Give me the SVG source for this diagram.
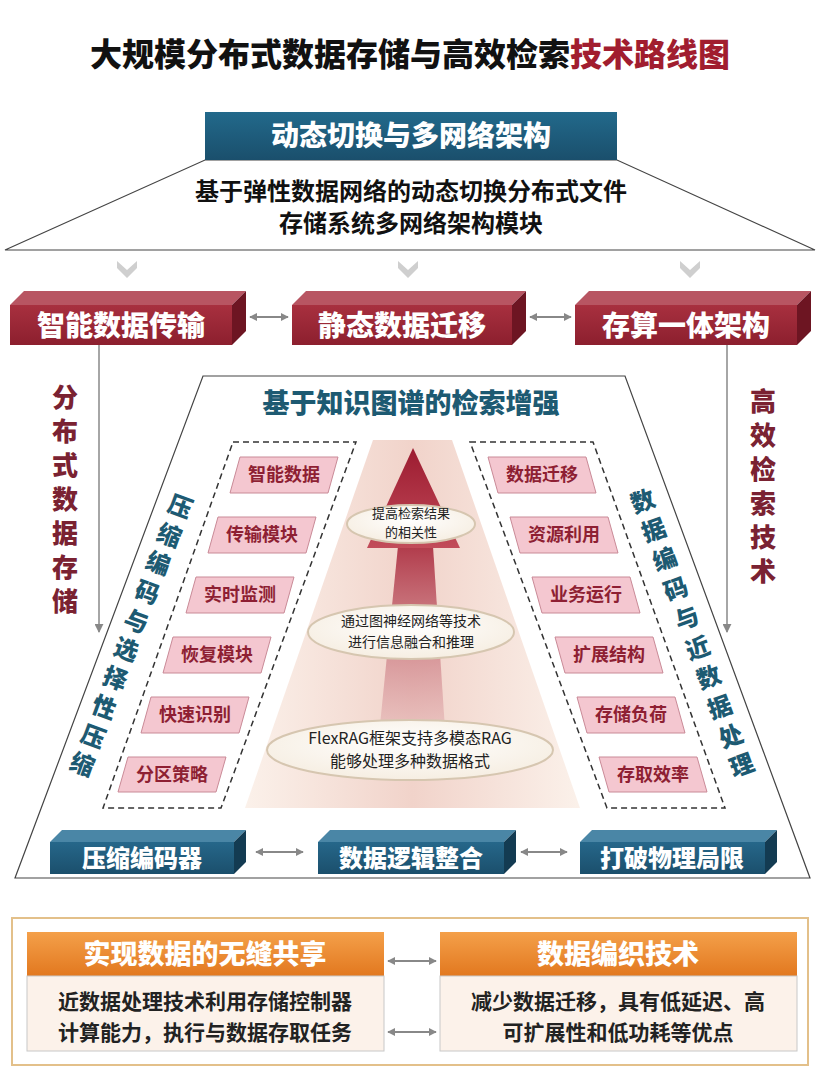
<svg xmlns="http://www.w3.org/2000/svg" width="820" height="1080" viewBox="0 0 820 1080">
<defs>
<style>
text{font-family:'Noto Sans CJK SC','Noto Sans',sans-serif;}
.title{font-size:32px;font-weight:900;fill:#111;}
.hdr{font-size:28px;font-weight:900;fill:#fff;}
.sub{font-size:24px;font-weight:700;fill:#111;}
.rbt{font-size:28px;font-weight:900;fill:#fff;}
.bbt{font-size:24px;font-weight:900;fill:#fff;}
.vred{font-size:26px;font-weight:900;fill:#7a2232;}
.teal{font-size:24px;font-weight:900;fill:#1d5a72;}
.pink{fill:#f4c7d0;stroke:#c98a97;stroke-width:1;}
.pt{font-size:18px;font-weight:700;fill:#8e1f33;}
.el{fill:url(#elg);stroke:#d6c6b0;stroke-width:2;}
.et{font-size:13px;fill:#222;}
.dash{fill:none;stroke:#333;stroke-width:1.5;stroke-dasharray:6 4;}
.conn{stroke:#888;stroke-width:2;fill:none;marker-start:url(#ah);marker-end:url(#ah);}
.vline{stroke:#888;stroke-width:1.5;fill:none;marker-end:url(#ah2);}
.ohdr{font-size:27px;font-weight:900;fill:#fff;}
.obody{font-size:21px;font-weight:700;fill:#222;}
.chev{fill:#cfcfcf;}
</style>
<marker id="ah" viewBox="0 0 10 10" refX="9" refY="5" markerWidth="4" markerHeight="4" orient="auto-start-reverse"><path d="M0,0 L10,5 L0,10 z" fill="#888"/></marker>
<marker id="ah2" viewBox="0 0 10 10" refX="9" refY="5" markerWidth="6" markerHeight="6" orient="auto"><path d="M0,0 L10,5 L0,10 z" fill="#888"/></marker>
<linearGradient id="tealg" x1="0" y1="0" x2="0" y2="1"><stop offset="0" stop-color="#22698b"/><stop offset="1" stop-color="#1a4f6c"/></linearGradient>
<linearGradient id="redf" x1="0" y1="0" x2="0" y2="1"><stop offset="0" stop-color="#a8303f"/><stop offset="1" stop-color="#8c1f2e"/></linearGradient>
<linearGradient id="bluef" x1="0" y1="0" x2="0" y2="1"><stop offset="0" stop-color="#26678a"/><stop offset="1" stop-color="#1b4f6c"/></linearGradient>
<linearGradient id="orf" x1="0" y1="0" x2="0" y2="1"><stop offset="0" stop-color="#f4a04a"/><stop offset="1" stop-color="#e2781f"/></linearGradient>
<linearGradient id="beige" x1="0" y1="0" x2="1" y2="0"><stop offset="0" stop-color="#fbf1ea"/><stop offset="0.5" stop-color="#f1d3ca"/><stop offset="1" stop-color="#fbf1ea"/></linearGradient>
<linearGradient id="shaft" x1="0" y1="0" x2="0" y2="1"><stop offset="0" stop-color="#b13b4b"/><stop offset="1" stop-color="#e9c1bf" stop-opacity="0.6"/></linearGradient>
<linearGradient id="head" x1="0" y1="0" x2="0" y2="1"><stop offset="0" stop-color="#9c1b30"/><stop offset="1" stop-color="#c24c5a"/></linearGradient>
<radialGradient id="elg" cx="0.5" cy="0.4" r="0.6"><stop offset="0" stop-color="#ffffff"/><stop offset="1" stop-color="#f6eee2"/></radialGradient>
</defs>
<rect width="820" height="1080" fill="#fff"/>

<g id="title">
<text class="title" x="410" y="66" text-anchor="middle">大规模分布式数据存储与高效检索<tspan fill="#a11d2f">技术路线图</tspan></text>
</g>

<g id="top-module">
<polygon points="205,160 617,160 815,250 5,250" fill="#fff" stroke="#444" stroke-width="1.2"/>
<rect x="205" y="112" width="412" height="48" fill="url(#tealg)"/>
<text class="hdr" x="411" y="146" text-anchor="middle">动态切换与多网络架构</text>
<text class="sub" x="411" y="200" text-anchor="middle">基于弹性数据网络的动态切换分布式文件</text>
<text class="sub" x="411" y="232" text-anchor="middle">存储系统多网络架构模块</text>
</g>

<g id="chevrons">
<polygon class="chev" points="117,261 127,270 137,261 137,268 127,278 117,268"/>
<polygon class="chev" points="398,261 408,270 418,261 418,268 408,278 398,268"/>
<polygon class="chev" points="680,261 690,270 700,261 700,268 690,278 680,268"/>
</g>

<g id="red-box-1">
<polygon points="10,305 24,291 246,291 232,305" fill="#b85562"/>
<polygon points="232,305 246,291 246,331 232,345" fill="#6d1522"/>
<rect x="10" y="305" width="222" height="40" fill="url(#redf)"/>
<text class="rbt" x="121" y="336" text-anchor="middle">智能数据传输</text>
</g>
<g id="red-box-2">
<polygon points="292,305 306,291 526,291 512,305" fill="#b85562"/>
<polygon points="512,305 526,291 526,331 512,345" fill="#6d1522"/>
<rect x="292" y="305" width="220" height="40" fill="url(#redf)"/>
<text class="rbt" x="402" y="336" text-anchor="middle">静态数据迁移</text>
</g>
<g id="red-box-3">
<polygon points="575,305 589,291 811,291 797,305" fill="#b85562"/>
<polygon points="797,305 811,291 811,331 797,345" fill="#6d1522"/>
<rect x="575" y="305" width="222" height="40" fill="url(#redf)"/>
<text class="rbt" x="686" y="336" text-anchor="middle">存算一体架构</text>
</g>

<g id="side-labels">
<text class="vred" text-anchor="middle"><tspan x="65" y="407">分</tspan><tspan x="65" y="441">布</tspan><tspan x="65" y="475">式</tspan><tspan x="65" y="509">数</tspan><tspan x="65" y="543">据</tspan><tspan x="65" y="577">存</tspan><tspan x="65" y="611">储</tspan></text>
<text class="vred" text-anchor="middle"><tspan x="763" y="411">高</tspan><tspan x="763" y="445">效</tspan><tspan x="763" y="479">检</tspan><tspan x="763" y="513">索</tspan><tspan x="763" y="547">技</tspan><tspan x="763" y="581">术</tspan></text>
</g>

<g id="kg-frame">
<polygon points="203,376 625,376 810,878 15,878" fill="#fff" stroke="#444" stroke-width="1.2"/>
<text x="411" y="413" text-anchor="middle" style="font-size:27px;font-weight:900;fill:#1d5a72">基于知识图谱的检索增强</text>
<polygon points="373,440 452,440 580,808 245,808" fill="url(#beige)"/>
</g>

<g id="center-arrow">
<polygon points="398,546 433,546 446,745 378,745" fill="url(#shaft)"/>
<polygon points="413,448 460,548 367,548" fill="url(#head)"/>
</g>

<g id="ellipse-1">
<ellipse class="el" cx="411" cy="524" rx="64" ry="19"/>
<text class="et" x="411" y="518" text-anchor="middle">提高检索结果</text>
<text class="et" x="411" y="537" text-anchor="middle">的相关性</text>
</g>
<g id="ellipse-2">
<ellipse class="el" cx="411" cy="632" rx="103" ry="27"/>
<text class="et" x="411" y="626" text-anchor="middle" style="font-size:14px">通过图神经网络等技术</text>
<text class="et" x="411" y="647" text-anchor="middle" style="font-size:14px">进行信息融合和推理</text>
</g>
<g id="ellipse-3">
<ellipse class="el" cx="410" cy="750" rx="143" ry="30"/>
<text class="et" x="410" y="744" text-anchor="middle" style="font-size:16px">FlexRAG框架支持多模态RAG</text>
<text class="et" x="410" y="767" text-anchor="middle" style="font-size:16px">能够处理多种数据格式</text>
</g>

<g id="left-column">
<polygon class="dash" points="233,442 356,442 221,808 103,808"/>
<polygon class="pink" points="240,457 338,457 328,493 230,493"/>
<text class="pt" x="284" y="481" text-anchor="middle">智能数据</text>
<polygon class="pink" points="218,517 316,517 306,553 208,553"/>
<text class="pt" x="262" y="541" text-anchor="middle">传输模块</text>
<polygon class="pink" points="196,577 294,577 284,613 186,613"/>
<text class="pt" x="240" y="601" text-anchor="middle">实时监测</text>
<polygon class="pink" points="173,637 271,637 261,673 163,673"/>
<text class="pt" x="217" y="661" text-anchor="middle">恢复模块</text>
<polygon class="pink" points="151,697 249,697 239,733 141,733"/>
<text class="pt" x="195" y="721" text-anchor="middle">快速识别</text>
<polygon class="pink" points="128,757 226,757 216,792 118,792"/>
<text class="pt" x="172" y="781" text-anchor="middle">分区策略</text>
</g>
<g id="left-teal">
<text class="teal" text-anchor="middle" transform="translate(180,507) rotate(20)" y="8">压</text>
<text class="teal" text-anchor="middle" transform="translate(169,536) rotate(20)" y="8">缩</text>
<text class="teal" text-anchor="middle" transform="translate(158,564) rotate(20)" y="8">编</text>
<text class="teal" text-anchor="middle" transform="translate(147,593) rotate(20)" y="8">码</text>
<text class="teal" text-anchor="middle" transform="translate(136,622) rotate(20)" y="8">与</text>
<text class="teal" text-anchor="middle" transform="translate(126,650) rotate(20)" y="8">选</text>
<text class="teal" text-anchor="middle" transform="translate(115,679) rotate(20)" y="8">择</text>
<text class="teal" text-anchor="middle" transform="translate(104,708) rotate(20)" y="8">性</text>
<text class="teal" text-anchor="middle" transform="translate(93,737) rotate(20)" y="8">压</text>
<text class="teal" text-anchor="middle" transform="translate(82,765) rotate(20)" y="8">缩</text>
</g>

<g id="right-column">
<polygon class="dash" points="470,442 593,442 725,808 607,808"/>
<polygon class="pink" points="488,457 586,457 596,493 498,493"/>
<text class="pt" x="542" y="481" text-anchor="middle">数据迁移</text>
<polygon class="pink" points="510,517 608,517 618,553 520,553"/>
<text class="pt" x="564" y="541" text-anchor="middle">资源利用</text>
<polygon class="pink" points="532,577 630,577 640,613 542,613"/>
<text class="pt" x="586" y="601" text-anchor="middle">业务运行</text>
<polygon class="pink" points="555,637 653,637 663,673 565,673"/>
<text class="pt" x="609" y="661" text-anchor="middle">扩展结构</text>
<polygon class="pink" points="577,697 675,697 685,733 587,733"/>
<text class="pt" x="631" y="721" text-anchor="middle">存储负荷</text>
<polygon class="pink" points="599,757 697,757 707,792 609,792"/>
<text class="pt" x="653" y="781" text-anchor="middle">存取效率</text>
</g>
<g id="right-teal">
<text class="teal" text-anchor="middle" transform="translate(643,502) rotate(-20)" y="8">数</text>
<text class="teal" text-anchor="middle" transform="translate(654,531) rotate(-20)" y="8">据</text>
<text class="teal" text-anchor="middle" transform="translate(665,560) rotate(-20)" y="8">编</text>
<text class="teal" text-anchor="middle" transform="translate(676,590) rotate(-20)" y="8">码</text>
<text class="teal" text-anchor="middle" transform="translate(687,619) rotate(-20)" y="8">与</text>
<text class="teal" text-anchor="middle" transform="translate(698,649) rotate(-20)" y="8">近</text>
<text class="teal" text-anchor="middle" transform="translate(709,678) rotate(-20)" y="8">数</text>
<text class="teal" text-anchor="middle" transform="translate(720,708) rotate(-20)" y="8">据</text>
<text class="teal" text-anchor="middle" transform="translate(731,737) rotate(-20)" y="8">处</text>
<text class="teal" text-anchor="middle" transform="translate(742,766) rotate(-20)" y="8">理</text>
</g>

<g id="blue-box-1">
<polygon points="50,842 62,830 246,830 234,842" fill="#4a86a6"/>
<polygon points="234,842 246,830 246,862 234,874" fill="#133b52"/>
<rect x="50" y="842" width="184" height="32" fill="url(#bluef)"/>
<text class="bbt" x="142" y="867" text-anchor="middle">压缩编码器</text>
</g>
<g id="blue-box-2">
<polygon points="318,842 330,830 516,830 504,842" fill="#4a86a6"/>
<polygon points="504,842 516,830 516,862 504,874" fill="#133b52"/>
<rect x="318" y="842" width="186" height="32" fill="url(#bluef)"/>
<text class="bbt" x="411" y="867" text-anchor="middle">数据逻辑整合</text>
</g>
<g id="blue-box-3">
<polygon points="580,842 592,830 777,830 765,842" fill="#4a86a6"/>
<polygon points="765,842 777,830 777,862 765,874" fill="#133b52"/>
<rect x="580" y="842" width="185" height="32" fill="url(#bluef)"/>
<text class="bbt" x="672" y="867" text-anchor="middle">打破物理局限</text>
</g>

<g id="bottom-frame">
<rect x="12" y="918" width="796" height="147" fill="#fff" stroke="#e3c08a" stroke-width="2"/>
</g>
<g id="panel-left">
<rect x="27" y="932" width="357" height="44" fill="url(#orf)"/>
<rect x="27" y="976" width="357" height="75" fill="#fcf2ea" stroke="#c8c8c8" stroke-width="1"/>
<text class="ohdr" x="205" y="964" text-anchor="middle">实现数据的无缝共享</text>
<text class="obody" x="205" y="1009" text-anchor="middle">近数据处理技术利用存储控制器</text>
<text class="obody" x="205" y="1040" text-anchor="middle">计算能力，执行与数据存取任务</text>
</g>
<g id="panel-right">
<rect x="440" y="932" width="357" height="44" fill="url(#orf)"/>
<rect x="440" y="976" width="357" height="75" fill="#fcf2ea" stroke="#c8c8c8" stroke-width="1"/>
<text class="ohdr" x="618" y="964" text-anchor="middle">数据编织技术</text>
<text class="obody" x="618" y="1009" text-anchor="middle">减少数据迁移，具有低延迟、高</text>
<text class="obody" x="618" y="1040" text-anchor="middle">可扩展性和低功耗等优点</text>
</g>

<g id="connectors">
<line class="conn" x1="250" y1="317" x2="288" y2="317"/>
<line class="conn" x1="530" y1="317" x2="571" y2="317"/>
<line class="vline" x1="99" y1="345" x2="99" y2="632"/>
<line class="vline" x1="727" y1="345" x2="727" y2="632"/>
<line class="conn" x1="256" y1="852" x2="303" y2="852"/>
<line class="conn" x1="521" y1="852" x2="567" y2="852"/>
<line class="conn" x1="388" y1="961" x2="436" y2="961"/>
<line class="conn" x1="388" y1="1032" x2="436" y2="1032"/>
</g>
</svg>
